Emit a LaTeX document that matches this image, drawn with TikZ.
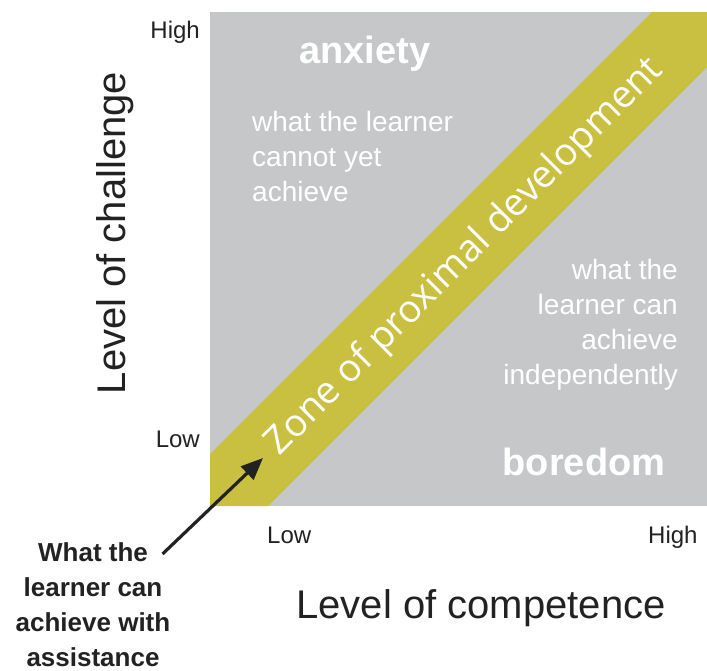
\documentclass[tikz,border=0pt]{standalone}
\usepackage{fontspec}
\usepackage{xcolor}
\usepackage{tikz}
\usetikzlibrary{arrows.meta}
\setmainfont{Liberation Sans}
\newfontfamily\bandfont{Open Sans}
\definecolor{fieldgray}{RGB}{197,199,201}
\definecolor{zoneyellow}{RGB}{201,191,64}
\definecolor{inkdark}{RGB}{34,34,34}

\begin{document}
\begin{tikzpicture}[x=1pt, y=-1pt,
    ticktxt/.style={text=inkdark, inner sep=0pt, font=\fontsize{24}{28}\selectfont},
    axistxt/.style={text=inkdark, inner sep=0pt, font=\fontsize{40}{46}\selectfont},
    moodtxt/.style={text=white, inner sep=0pt, font=\bfseries\fontsize{38}{44}\selectfont},
    regiontxt/.style={text=white, inner sep=0pt, font=\fontsize{28}{35}\selectfont},
    notetxt/.style={text=inkdark, inner sep=0pt, align=center, font=\bfseries\fontsize{26}{35}\selectfont}]
            \useasboundingbox (0,0) rectangle (707,670);

            % field and the diagonal zone
            \fill [fieldgray] (210,12) rectangle (707,506);
            \fill [zoneyellow] (210,454) -- (652,12) -- (707,12) -- (707,67) -- (268,506) -- (210,506) -- cycle;
            \node [rotate=45, text=white, inner sep=0pt, font=\bandfont\fontsize{38}{44}\selectfont] (Z) at (465,257) {Zone of proximal development};

            % region texts
            \node [moodtxt, anchor=base] (A) at (365,63) {anxiety};
            \node [regiontxt, align=left, anchor=north west] (A1) at (252,111) {what the learner\\cannot yet\\achieve};
            \node [regiontxt, align=right, anchor=north east] (B1) at (678,259) {what the\\learner can\\achieve\\independently};
            \node [moodtxt, anchor=base] (B) at (584,475) {boredom};

            % axes
            \node [ticktxt, anchor=base east] (yhi) at (200,38) {High};
            \node [ticktxt, anchor=base east] (ylo) at (200,447) {Low};
            \node [ticktxt, anchor=base west] (xlo) at (267,543) {Low};
            \node [ticktxt, anchor=base west] (xhi) at (648,543) {High};
            \node [axistxt, rotate=90, anchor=base] (ylab) at (125,233) {Level of challenge};
            \node [axistxt, anchor=base] (xlab) at (481,618) {Level of competence};

            % assistance note
            \node [notetxt, anchor=north] (N) at (93,542) {What the\\learner can\\achieve with\\assistance};
            \coordinate (tip) at (263,458);
            \draw [-{Triangle[length=22pt, width=18pt]}, line width=3.2pt, inkdark] ([xshift=-8pt, yshift=-12pt]N.north east) -- (tip);
        \end{tikzpicture}
\end{document}
